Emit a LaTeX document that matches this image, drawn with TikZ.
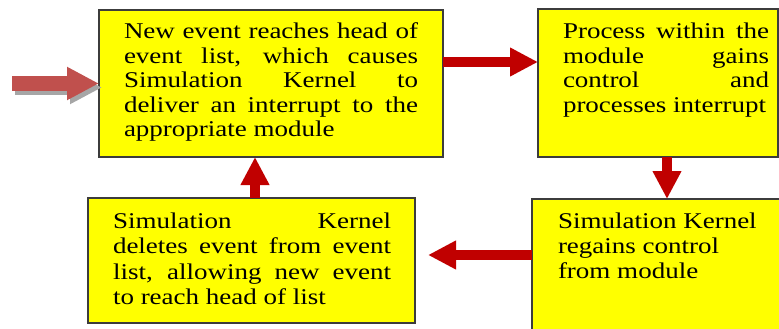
\documentclass[tikz,border=0pt]{standalone}
\usepackage{fontspec}
\setmainfont[FakeStretch=1.2]{Liberation Serif}
\usetikzlibrary{arrows.meta,calc}
\definecolor{boxyellow}{RGB}{255,255,0}
\definecolor{arrred}{RGB}{192,0,0}
\definecolor{inred}{RGB}{192,80,77}
\definecolor{borderc}{RGB}{60,60,60}
\tikzset{
  box/.style={draw=borderc, line width=1.1pt, fill=boxyellow, inner sep=0pt, outer sep=0pt, anchor=north west},
  txt/.style={inner sep=0pt, outer sep=0pt, anchor=base west, text=black},
  arr/.style={draw=arrred, line width=10pt, -{Triangle[width=27pt,length=28pt]}},
  inarr/.style={draw=inred, line width=15pt, -{Triangle[width=31pt,length=32pt]}},
}
\newcommand{\bigtxt}[1]{\fontsize{22.5}{#1}\selectfont}
\begin{document}
\begin{tikzpicture}[x=1pt,y=-1pt]
\clip (0,0) rectangle (779,329);
\fill[white] (0,0) rectangle (779,329);
% boxes
\node[box, minimum width=344pt, minimum height=147pt] (b1) at (99,10) {};
\node[box, minimum width=240pt, minimum height=148pt] (b2) at (538,9) {};
\node[box, minimum width=327pt, minimum height=125pt] (b3) at (88,198) {};
\node[box, minimum width=270pt, minimum height=170pt] (b4) at (532,199) {};
% texts
\node[txt] (t1) at (124,39) {\parbox[t]{294pt}{\bigtxt{24.5}New event reaches head of\linebreak event list, which causes\linebreak Simulation Kernel to\linebreak deliver an interrupt to the\linebreak appropriate module}};
\node[txt] (t2) at (563,39) {\parbox[t]{206pt}{\bigtxt{24.5}Process within the\linebreak module gains\linebreak control and\linebreak processes interrupt}};
\node[txt] (t3) at (113,228) {\parbox[t]{278pt}{\bigtxt{25.5}Simulation Kernel\linebreak deletes event from event\linebreak list, allowing new event\linebreak to reach head of list}};
\node[txt] (t4) at (558,228) {\parbox[t]{210pt}{\raggedright\bigtxt{25.3}Simulation Kernel\\ regains control\\ from module}};
% entry arrow with shadow
\coordinate (in) at (12,83.5);
\draw[inarr, draw=gray!70, fill=gray!70, transform canvas={xshift=3pt,yshift=-4pt}] (in) -- (b1.west);
\draw[inarr, fill=inred] (in) -- (b1.west);
% flow arrows
\draw[arr, fill=arrred] ([yshift=21.5pt]b1.east) -- ([yshift=21.5pt]b1.east -| b2.west);
\draw[arr, fill=arrred] ([xshift=9pt]b2.south) -- ([xshift=9pt]b2.south |- b4.north);
\draw[arr, fill=arrred, shorten >=13pt] ([yshift=-56pt]b4.north west) -- ([yshift=-56pt]b4.north west -| b3.east);
\draw[arr, fill=arrred] ([xshift=3.5pt]b3.north) -- ([xshift=3.5pt]b3.north |- b1.south);
\end{tikzpicture}
\end{document}
